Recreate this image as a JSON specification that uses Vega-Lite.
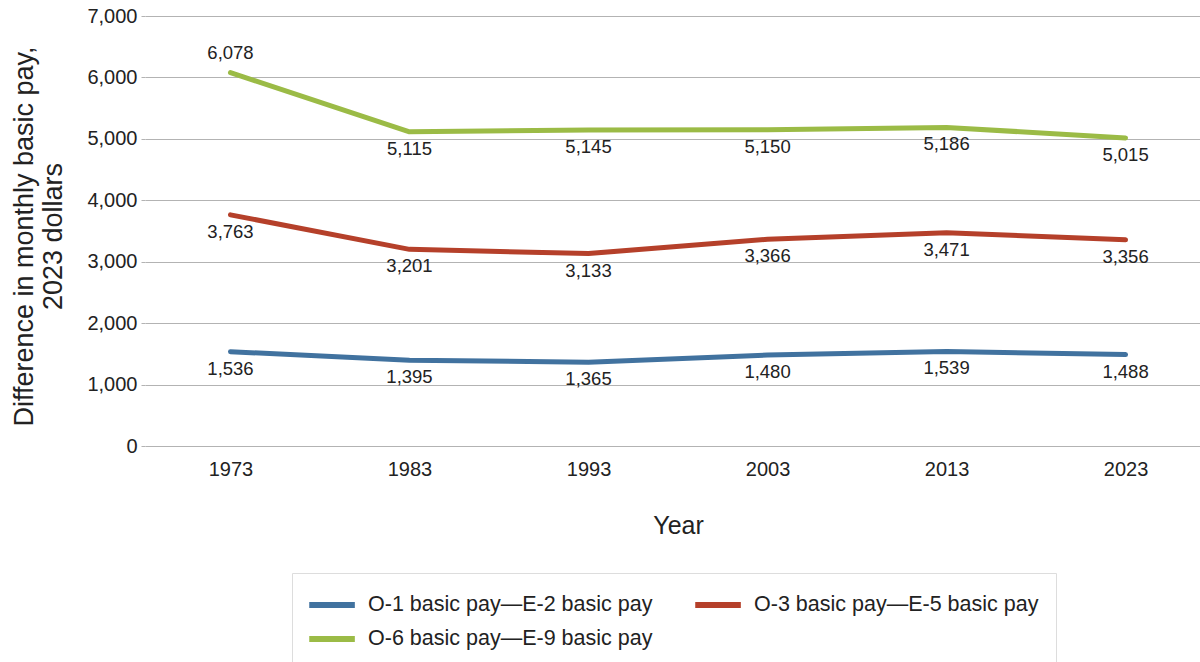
{
  "$schema": "https://vega.github.io/schema/vega-lite/v6.json",
  "width": 1055,
  "height": 430,
  "autosize": {"type": "none"},
  "padding": {"left": 145, "top": 16, "right": 0, "bottom": 216},
  "background": "white",
  "config": {
    "view": {"stroke": null},
    "font": "Liberation Sans",
    "text": {"font": "Liberation Sans"}
  },
  "data": {
    "values": [
      {"year": 1973, "series": "O-1 basic pay—E-2 basic pay", "value": 1536},
      {"year": 1983, "series": "O-1 basic pay—E-2 basic pay", "value": 1395},
      {"year": 1993, "series": "O-1 basic pay—E-2 basic pay", "value": 1365},
      {"year": 2003, "series": "O-1 basic pay—E-2 basic pay", "value": 1480},
      {"year": 2013, "series": "O-1 basic pay—E-2 basic pay", "value": 1539},
      {"year": 2023, "series": "O-1 basic pay—E-2 basic pay", "value": 1488},
      {"year": 1973, "series": "O-3 basic pay—E-5 basic pay", "value": 3763},
      {"year": 1983, "series": "O-3 basic pay—E-5 basic pay", "value": 3201},
      {"year": 1993, "series": "O-3 basic pay—E-5 basic pay", "value": 3133},
      {"year": 2003, "series": "O-3 basic pay—E-5 basic pay", "value": 3366},
      {"year": 2013, "series": "O-3 basic pay—E-5 basic pay", "value": 3471},
      {"year": 2023, "series": "O-3 basic pay—E-5 basic pay", "value": 3356},
      {"year": 1973, "series": "O-6 basic pay—E-9 basic pay", "value": 6078},
      {"year": 1983, "series": "O-6 basic pay—E-9 basic pay", "value": 5115},
      {"year": 1993, "series": "O-6 basic pay—E-9 basic pay", "value": 5145},
      {"year": 2003, "series": "O-6 basic pay—E-9 basic pay", "value": 5150},
      {"year": 2013, "series": "O-6 basic pay—E-9 basic pay", "value": 5186},
      {"year": 2023, "series": "O-6 basic pay—E-9 basic pay", "value": 5015}
    ]
  },
  "encoding": {
    "x": {
      "field": "year",
      "type": "quantitative",
      "scale": {"domain": [1968.224, 2027.16], "nice": false, "zero": false},
      "axis": {
        "values": [1973, 1983, 1993, 2003, 2013, 2023],
        "format": "d",
        "labelAngle": 0,
        "labelFontSize": 20,
        "labelColor": "#222222",
        "labelPadding": 13,
        "ticks": false,
        "domain": false,
        "grid": false,
        "title": "Year",
        "titleFontSize": 25,
        "titleFontWeight": "normal",
        "titleColor": "#222222",
        "titlePadding": 34,
        "titleX": 533
      }
    },
    "y": {
      "field": "value",
      "type": "quantitative",
      "scale": {"domain": [0, 7000], "nice": false},
      "axis": {
        "values": [0, 1000, 2000, 3000, 4000, 5000, 6000, 7000],
        "format": ",.0f",
        "grid": true,
        "gridColor": "#b3b3b3",
        "gridWidth": 1,
        "domain": false,
        "ticks": true,
        "tickSize": 4,
        "tickColor": "#b3b3b3",
        "labelFontSize": 20,
        "labelColor": "#222222",
        "labelPadding": 4,
        "title": ["Difference in monthly basic pay,", "2023 dollars"],
        "titleFontSize": 27,
        "titleFontWeight": "normal",
        "titleColor": "#222222",
        "titleAngle": -90,
        "titleAlign": "center",
        "titleBaseline": "alphabetic",
        "titleLineHeight": 29,
        "titleX": -113,
        "titleY": 220
      }
    }
  },
  "layer": [
    {
      "mark": {"type": "line", "strokeWidth": 5, "strokeCap": "round", "strokeJoin": "round"},
      "encoding": {
        "color": {
          "field": "series",
          "type": "nominal",
          "scale": {
            "domain": ["O-1 basic pay—E-2 basic pay", "O-3 basic pay—E-5 basic pay", "O-6 basic pay—E-9 basic pay"],
            "range": ["#41729f", "#b5402a", "#9bbb46"]
          },
          "legend": {
            "orient": "none",
            "legendX": 147,
            "legendY": 557,
            "direction": "horizontal",
            "columns": 2,
            "title": null,
            "padding": 17,
            "fillColor": "white",
            "strokeColor": "#dddddd",
            "symbolType": "M-1.23,0H2.57",
            "symbolStrokeWidth": 6,
            "symbolSize": 576,
            "labelFontSize": 21.5,
            "labelColor": "#222222",
            "labelOffset": 29,
            "labelLimit": 400,
            "columnPadding": 30,
            "rowPadding": 7
          }
        }
      }
    },
    {
      "transform": [{"filter": "datum.value > 6000"}],
      "mark": {"type": "text", "dy": -20, "fontSize": 18.5, "color": "#222222", "baseline": "middle"},
      "encoding": {"text": {"field": "value", "type": "quantitative", "format": ","}}
    },
    {
      "transform": [{"filter": "datum.value <= 6000"}],
      "mark": {"type": "text", "dy": 17, "fontSize": 18.5, "color": "#222222", "baseline": "middle"},
      "encoding": {"text": {"field": "value", "type": "quantitative", "format": ","}}
    }
  ]
}
